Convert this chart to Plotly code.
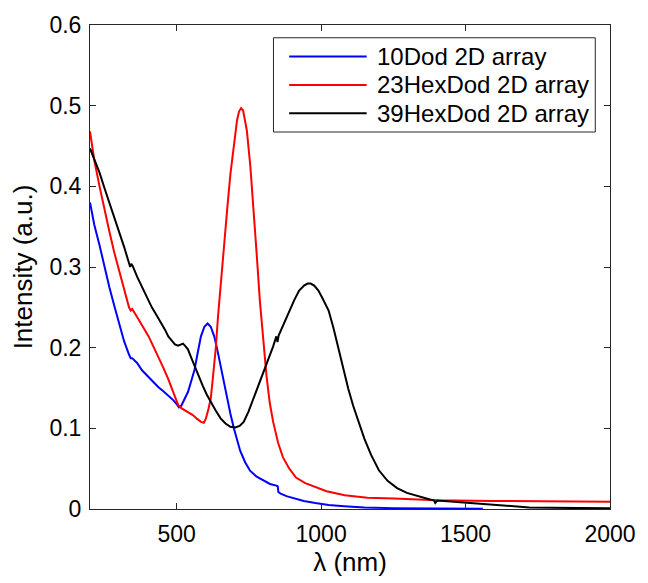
import plotly.graph_objects as go

# Wavelength (nm) and intensity (a.u.) for each 2D array
wl_10dod = [200, 215, 233, 250, 267, 284, 301, 318, 335, 341, 346, 352, 363, 380, 403, 420,
            437, 454, 471, 488, 500, 508, 516, 528, 539, 550, 562, 573, 584, 596, 607, 618,
            630, 641, 652, 664, 675, 686, 698, 709, 720, 737, 754, 777, 800, 823, 845, 850,
            852, 860, 880, 906, 940, 980, 1026, 1080, 1150, 1252, 1350, 1450, 1560]
int_10dod = [0.380, 0.352, 0.327, 0.300, 0.275, 0.252, 0.230, 0.208, 0.1915, 0.187, 0.187,
             0.185, 0.181, 0.172, 0.163, 0.157, 0.151, 0.146, 0.141, 0.135, 0.130, 0.126,
             0.128, 0.136, 0.145, 0.158, 0.173, 0.194, 0.214, 0.226, 0.230, 0.226, 0.214,
             0.197, 0.177, 0.157, 0.137, 0.118, 0.100, 0.085, 0.072, 0.058, 0.0475, 0.040,
             0.035, 0.031, 0.029, 0.028, 0.021, 0.019, 0.016, 0.013, 0.010, 0.0075, 0.005,
             0.0035, 0.002, 0.001, 0.0006, 0.0003, 0.0002]

wl_23hexdod = [200, 215, 233, 250, 267, 284, 301, 318, 335, 341, 346, 363, 383, 403, 420, 437,
               454, 471, 488, 505, 516, 528, 542, 556, 570, 584, 594, 601, 610, 618, 626, 635,
               643, 652, 664, 675, 686, 698, 709, 716, 723, 730, 743, 755, 766, 777, 788, 800,
               811, 822, 834, 851, 868, 890, 913, 945, 981, 1019, 1082, 1160, 1252, 1400,
               1592, 1800, 2000]
int_23hexdod = [0.468, 0.432, 0.400, 0.370, 0.344, 0.318, 0.295, 0.271, 0.250, 0.246, 0.248,
                0.238, 0.226, 0.214, 0.201, 0.189, 0.175, 0.161, 0.146, 0.129, 0.125, 0.1225,
                0.119, 0.1165, 0.112, 0.108, 0.107, 0.112, 0.124, 0.137, 0.165, 0.198, 0.238,
                0.279, 0.326, 0.372, 0.415, 0.453, 0.482, 0.493, 0.497, 0.494, 0.469, 0.425,
                0.376, 0.316, 0.258, 0.207, 0.165, 0.132, 0.108, 0.082, 0.064, 0.050, 0.039,
                0.032, 0.027, 0.022, 0.017, 0.014, 0.013, 0.011, 0.010, 0.0095, 0.009]

wl_39hexdod = [200, 215, 233, 250, 267, 284, 301, 318, 335, 339, 343, 348, 363, 380, 397, 414,
               431, 448, 460, 471, 483, 494, 505, 514, 522, 530, 539, 550, 562, 576, 590, 604,
               618, 635, 652, 669, 686, 703, 718, 732, 749, 766, 783, 800, 817, 834, 845, 849,
               853, 858, 873, 890, 907, 924, 941, 953, 964, 976, 990, 1003, 1015, 1026, 1043,
               1060, 1077, 1094, 1111, 1128, 1150, 1173, 1200, 1230, 1263, 1297, 1337, 1377,
               1390, 1395, 1402, 1440, 1512, 1580, 1652, 1720, 1793, 1900, 2000]
int_39hexdod = [0.447, 0.433, 0.417, 0.398, 0.380, 0.362, 0.344, 0.325, 0.305, 0.300, 0.304,
                0.301, 0.288, 0.275, 0.262, 0.250, 0.240, 0.230, 0.222, 0.214, 0.208, 0.204,
                0.2025, 0.204, 0.205, 0.202, 0.198, 0.188, 0.177, 0.165, 0.153, 0.142, 0.1327,
                0.122, 0.1124, 0.106, 0.102, 0.101, 0.103, 0.108, 0.121, 0.137, 0.153, 0.169,
                0.185, 0.2017, 0.214, 0.207, 0.215, 0.219, 0.233, 0.246, 0.259, 0.2707, 0.277,
                0.2795, 0.2795, 0.277, 0.271, 0.2625, 0.254, 0.246, 0.224, 0.198, 0.172, 0.149,
                0.128, 0.109, 0.087, 0.067, 0.048, 0.035, 0.026, 0.020, 0.0155, 0.0118, 0.0108,
                0.0075, 0.0105, 0.0095, 0.0075, 0.005, 0.003, 0.002, 0.0015, 0.001, 0.0008]

series_names = ["10Dod 2D array", "23HexDod 2D array", "39HexDod 2D array"]
series_colors = ["#0000ff", "#ff0000", "#000000"]
series_x = [wl_10dod, wl_23hexdod, wl_39hexdod]
series_y = [int_10dod, int_23hexdod, int_39hexdod]

x_ticks = [500, 1000, 1500, 2000]
y_ticks = [0, 0.1, 0.2, 0.3, 0.4, 0.5, 0.6]
y_tick_text = ["0", "0.1", "0.2", "0.3", "0.4", "0.5", "0.6"]

# Canvas and plot-area geometry (pixels)
W, H = 648, 583
ML, MR, MT, MB = 90, 28, 23, 67
PW, PH = W - ML - MR, H - MT - MB


def fx(px):
    return (px - ML) / PW


def fy(py):
    return (H - MB - py) / PH


FONT = "Liberation Sans, Arial, sans-serif"
AXIS_COLOR = "#262626"

fig = go.Figure()
for xs, ys, name, color in zip(series_x, series_y, series_names, series_colors):
    fig.add_trace(go.Scatter(x=xs, y=ys, mode="lines", name=name,
                             line=dict(color=color, width=2), showlegend=False))

# Boxed legend in the upper right of the axes
shapes = [dict(type="rect", xref="paper", yref="paper",
               x0=fx(277), x1=fx(605), y0=fy(132), y1=fy(36),
               line=dict(color=AXIS_COLOR, width=1), fillcolor="white", layer="above")]
annotations = []
row_y = [55, 84, 113]
for ry, name, color in zip(row_y, series_names, series_colors):
    shapes.append(dict(type="line", xref="paper", yref="paper",
                       x0=fx(293), x1=fx(372), y0=fy(ry), y1=fy(ry),
                       line=dict(color=color, width=2), layer="above"))
    annotations.append(dict(xref="paper", yref="paper", x=fx(380), y=fy(ry),
                            text=name, showarrow=False, xanchor="left", yanchor="middle",
                            font=dict(family=FONT, size=24, color="black")))

axis_common = dict(showline=True, linecolor=AXIS_COLOR, linewidth=1, mirror="ticks",
                   ticks="inside", ticklen=6, tickwidth=1, tickcolor=AXIS_COLOR,
                   showgrid=False, zeroline=False,
                   tickfont=dict(family=FONT, size=23, color="black"))

fig.update_layout(
    width=W, height=H,
    margin=dict(l=ML, r=MR, t=MT, b=MB),
    paper_bgcolor="white", plot_bgcolor="white",
    font=dict(family=FONT, color="black"),
    xaxis=dict(range=[200, 2000], tickvals=x_ticks, ticklabelstandoff=4,
               title=dict(text="λ (nm)", font=dict(family=FONT, size=26, color="black"),
                          standoff=6),
               **axis_common),
    yaxis=dict(range=[0, 0.6], tickvals=y_ticks, ticktext=y_tick_text, ticklabelstandoff=3,
               title=dict(text="Intensity (a.u.)", font=dict(family=FONT, size=26, color="black"),
                          standoff=9),
               **axis_common),
    shapes=shapes,
    annotations=annotations,
    showlegend=False,
)

fig.write_html("out.html")
